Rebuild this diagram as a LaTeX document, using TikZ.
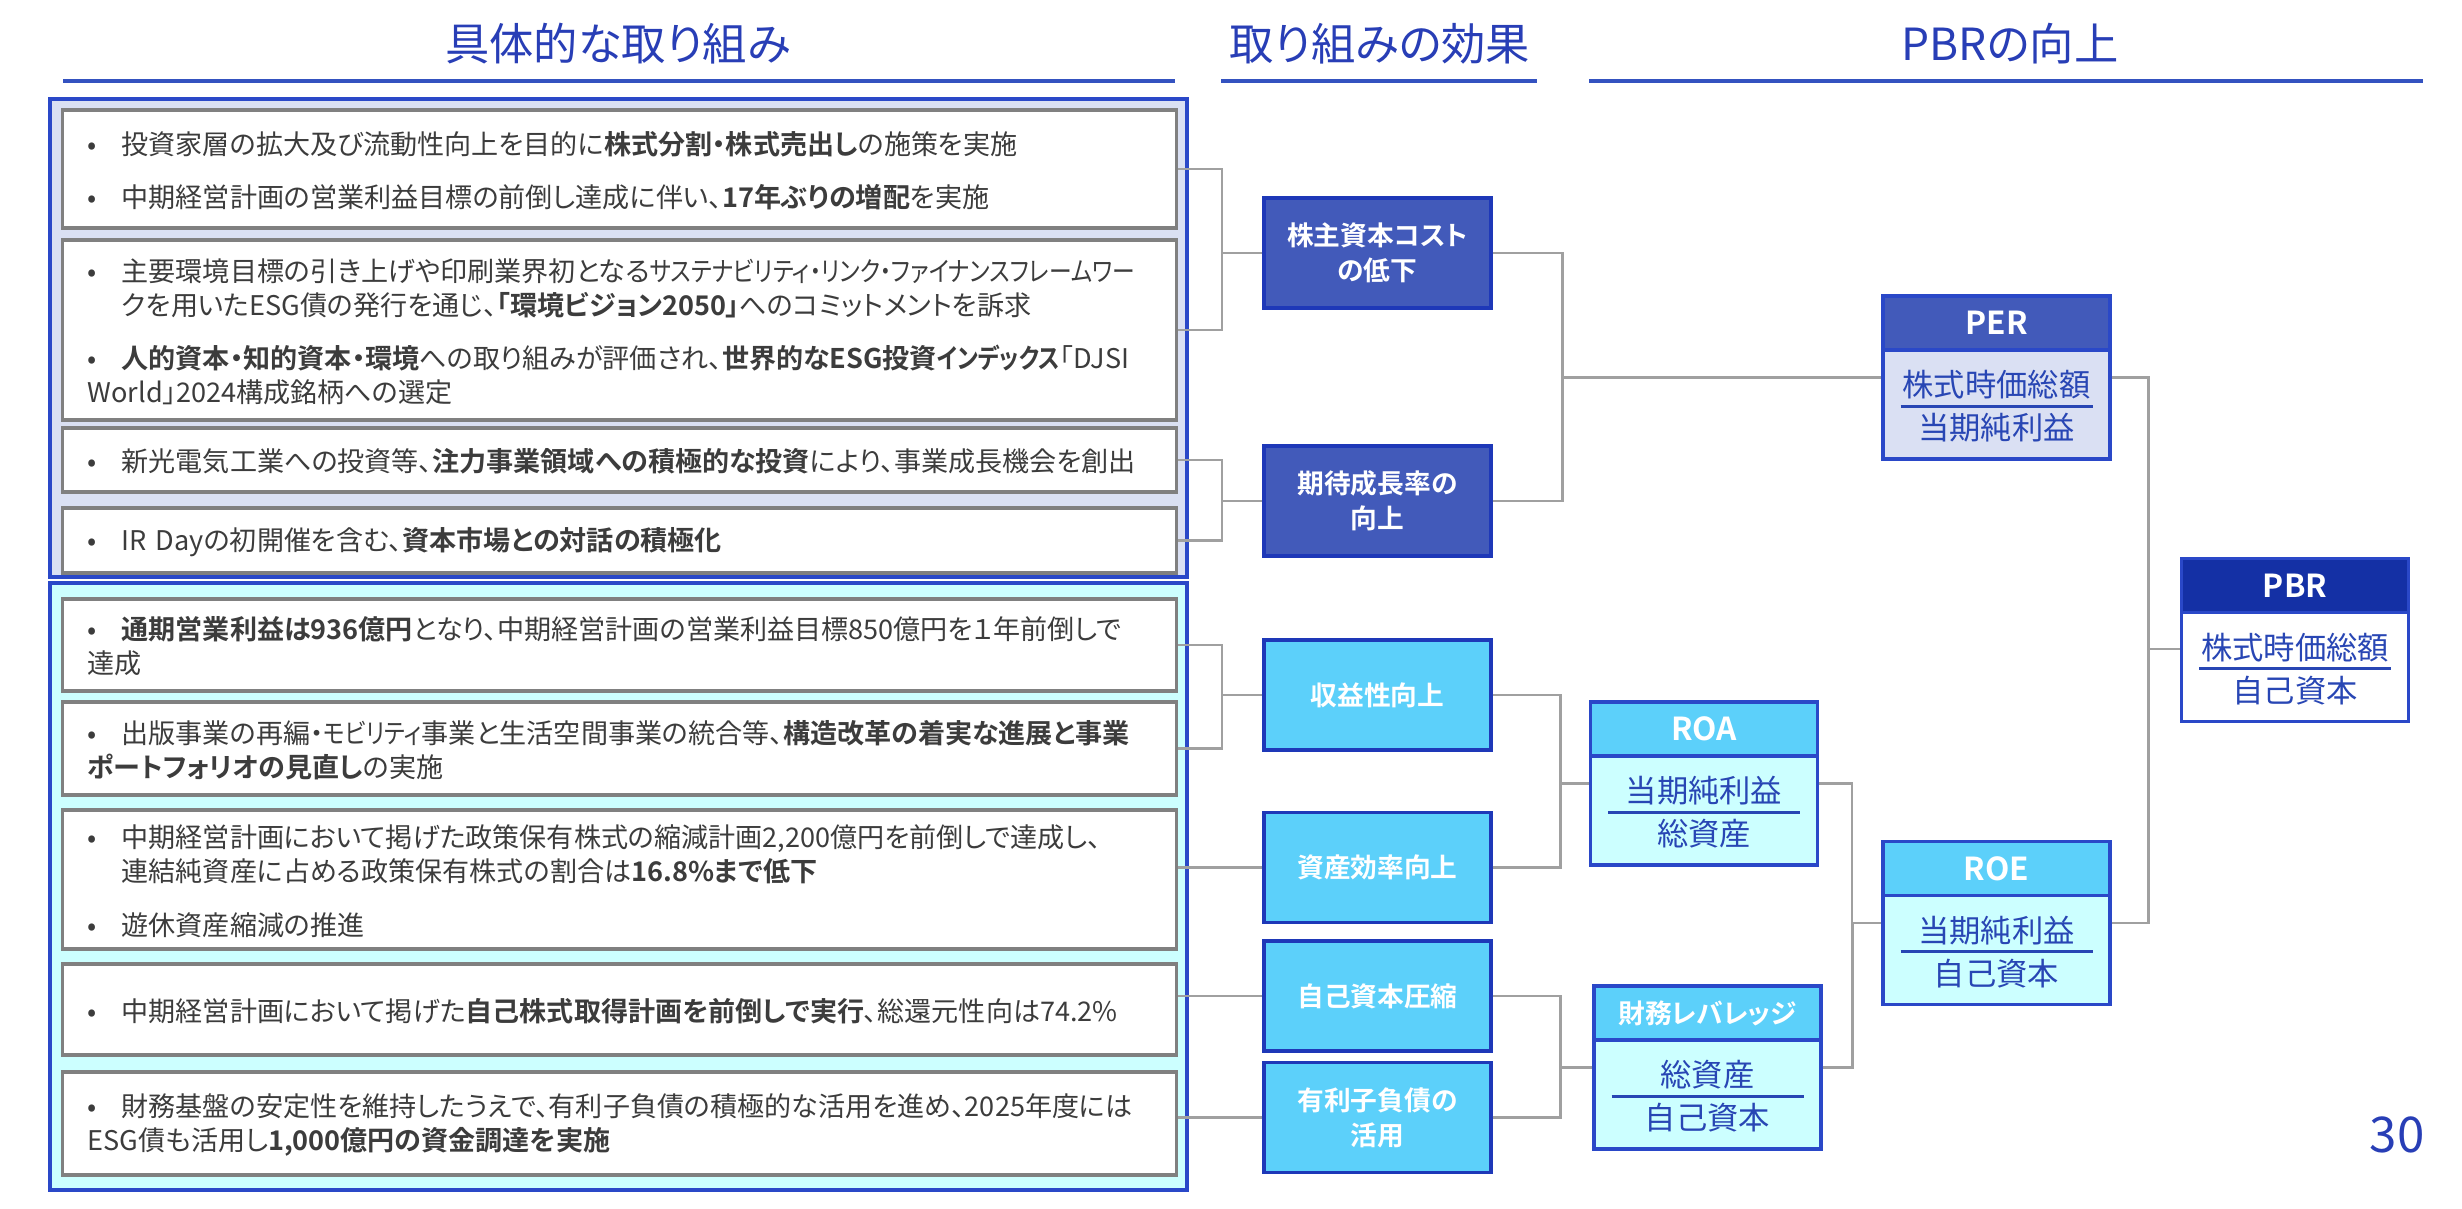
\documentclass[tikz,border=0pt]{standalone}
\usepackage{fontspec}
\usepackage{graphicx}
\setmainfont{Noto Sans CJK JP}[BoldFont={Noto Sans CJK JP Bold},RawFeature=+palt]
\usetikzlibrary{calc}

\definecolor{hdblue}{RGB}{40,62,182}
\definecolor{lineblue}{RGB}{52,82,192}
\definecolor{frameblue}{RGB}{42,72,200}
\definecolor{effline}{RGB}{30,56,184}
\definecolor{lav}{RGB}{218,224,243}
\definecolor{aqua}{RGB}{204,255,255}
\definecolor{effdark}{RGB}{66,90,186}
\definecolor{effsky}{RGB}{92,208,250}
\definecolor{pbrhead}{RGB}{20,48,165}
\definecolor{linegray}{RGB}{160,160,160}
\definecolor{boxgray}{RGB}{128,128,128}
\definecolor{txtgray}{RGB}{60,60,60}
\definecolor{ratioblue}{RGB}{40,70,180}

\tikzset{
  heading/.style={text=hdblue, font={\fontsize{12.6}{15}\selectfont}},
  underline/.style={draw=lineblue, line width=0.9pt},
  frame/.style={draw=frameblue, line width=0.9pt},
  listbox/.style={draw=boxgray, line width=0.9pt, fill=white, text width=10.63cm,
    inner xsep=0.25cm, inner ysep=0pt, align=left, text=txtgray,
    execute at end node={\par\vspace{0.08cm}},
    font={\fontsize{7.7}{9.7}\selectfont}},
  effbox/.style={draw=effline, line width=0.9pt, minimum width=2.27cm, minimum height=1.1cm,
    align=center, text=white, font={\bfseries\fontsize{7.6}{10}\selectfont}},
  ratiobody/.style={draw=frameblue, line width=0.9pt, minimum width=2.27cm, minimum height=1.63cm},
  ratiohead/.style={draw=frameblue, line width=0.9pt, minimum width=2.27cm, minimum height=0.54cm,
    text=white, font={\bfseries\fontsize{9}{10}\selectfont}},
  ratiotext/.style={text=ratioblue, inner sep=0pt, font={\fontsize{8.9}{10}\selectfont}},
  ratiobar/.style={draw=ratioblue, line width=0.9pt},
  link/.style={draw=linegray, line width=0.7pt},
  pagenum/.style={text=hdblue, font={\fontsize{14}{16}\selectfont}}
}

\newcommand\itm{\par\noindent\hangindent=0.34cm\hangafter=1\makebox[0.34cm][l]{•}}
\newcommand\itmgap{\par\vspace{0.19cm}}
\newcommand\narrow[1]{\scalebox{0.84}[1]{#1}}
% ratio box: name, position, head style, body style, title, numerator, denominator
\newcommand\ratiobox[7]{%
  \node[ratiobody,#4] (#1) at (#2) {};
  \node[ratiohead,#3,anchor=north] (#1h) at (#1.north) {#5};
  \coordinate (#1m) at ($(#1h.south)!0.5!(#1.south)$);
  \node[ratiotext] (#1n) at ($(#1m)+(0,-21)$) {#6};
  \node[ratiotext] (#1d) at ($(#1m)+(0,22)$) {#7};
  \draw[ratiobar] ($(#1m)+(-96,0)$) -- ($(#1m)+(96,0)$);
}

\begin{document}
\begin{tikzpicture}[x=0.01cm,y=-0.01cm]
  \useasboundingbox (0,0) rectangle (2462,1209);

  %%%%% HEADINGS %%%%%
  \node[heading] (t1) at (618,44) {具体的な取り組み};
  \node[heading] (t2) at (1380,44) {取り組みの効果};
  \node[heading] (t3) at (2010,44) {PBRの向上};
  \draw[underline] (63,81) -- (1175,81);
  \draw[underline] (1221,81) -- (1537,81);
  \draw[underline] (1589,81) -- (2423,81);

  %%%%% MEASURES %%%%%
  \draw[frame, fill=lav] (50,99) rectangle (1187,577);
  \draw[frame, fill=aqua] (50,583) rectangle (1187,1190);

  \node[listbox, minimum height=1.18cm] (l1) at (619.5,169) {%
    \itm 投資家層の拡大及び流動性向上を目的に\textbf{株式分割・株式売出し}の施策を実施\itmgap
    \itm 中期経営計画の営業利益目標の前倒し達成に伴い、\textbf{17年ぶりの増配}を実施};
  \node[listbox, minimum height=1.80cm] (l2) at (619.5,330) {%
    \itm 主要環境目標の引き上げや印刷業界初となる\narrow{サステナビリティ・リンク・ファイナンスフレームワー}\newline
    クを用いたESG債の発行を通じ、\textbf{「環境ビジョン2050」}へのコミットメントを訴求\itmgap
    \itm \textbf{人的資本・知的資本・環境}への取り組みが評価され、\textbf{世界的なESG投資\narrow{インデックス}}「DJSI\newline
    World」2024構成銘柄への選定};
  \node[listbox, minimum height=0.64cm] (l3) at (619.5,460) {%
    \itm 新光電気工業への投資等、\textbf{注力事業領域への積極的な投資}により、事業成長機会を創出};
  \node[listbox, minimum height=0.65cm] (l4) at (619.5,540.5) {%
    \itm IR Dayの初開催を含む、\textbf{資本市場との対話の積極化}};

  \node[listbox, minimum height=0.92cm] (l5) at (619.5,645) {%
    \itm \textbf{通期営業利益は936億円}となり、中期経営計画の営業利益目標850億円を１年前倒しで\newline
    達成};
  \node[listbox, minimum height=0.93cm] (l6) at (619.5,748.5) {%
    \itm 出版事業の再編・\narrow{モビリティ}事業と生活空間事業の統合等、\textbf{構造改革の着実な進展と事業}\newline
    \textbf{ポートフォリオの見直し}の実施};
  \node[listbox, minimum height=1.39cm] (l7) at (619.5,879.5) {%
    \itm 中期経営計画において掲げた政策保有株式の縮減計画2,200億円を前倒しで達成し、\newline
    連結純資産に占める政策保有株式の割合は\textbf{16.8\%まで低下}\itmgap
    \itm 遊休資産縮減の推進};
  \node[listbox, minimum height=0.91cm] (l8) at (619.5,1009.5) {%
    \itm 中期経営計画において掲げた\textbf{自己株式取得計画を前倒しで実行}、総還元性向は74.2\%};
  \node[listbox, minimum height=1.03cm] (l9) at (619.5,1123.5) {%
    \itm 財務基盤の安定性を維持したうえで、有利子負債の積極的な活用を進め、2025年度には\newline
    ESG債も活用し\textbf{1,000億円の資金調達を実施}};

  %%%%% EFFECTS %%%%%
  \node[effbox, fill=effdark] (e1) at (1377.5,253) {株主資本コスト\\の低下};
  \node[effbox, fill=effdark] (e2) at (1377.5,501) {期待成長率の\\向上};
  \node[effbox, fill=effsky] (e3) at (1377.5,695) {収益性向上};
  \node[effbox, fill=effsky] (e4) at (1377.5,867.5) {資産効率向上};
  \node[effbox, fill=effsky] (e5) at (1377.5,996) {自己資本圧縮};
  \node[effbox, fill=effsky] (e6) at (1377.5,1117.5) {有利子負債の\\活用};

  %%%%% RATIOS %%%%%
  \ratiobox{per}{1996.5,377.5}{fill=effdark}{fill=lav}{PER}{株式時価総額}{当期純利益}
  \ratiobox{pbr}{2295,640}{fill=pbrhead}{fill=white}{PBR}{株式時価総額}{自己資本}
  \ratiobox{roa}{1704,783.5}{fill=effsky}{fill=aqua}{ROA}{当期純利益}{総資産}
  \ratiobox{roe}{1996.5,923}{fill=effsky}{fill=aqua}{ROE}{当期純利益}{自己資本}
  \ratiobox{lev}{1707.5,1067.5}{fill=effsky,font={\bfseries\fontsize{7.6}{10}\selectfont}}{fill=aqua}{財務レバレッジ}{総資産}{自己資本}

  %%%%% LINKS %%%%%
  \draw[link] (l1.east) -- ++(44,0) |- (e1.west);
  \draw[link] (l2.east) -- ++(44,0) |- (e1.west);
  \draw[link] (l3.east) -- ++(44,0) |- (e2.west);
  \draw[link] (l4.east) -- ++(44,0) |- (e2.west);
  \draw[link] (l5.east) -- ++(44,0) |- (e3.west);
  \draw[link] (l6.east) -- ++(44,0) |- (e3.west);
  \draw[link] (l7.east |- e4.west) -- (e4.west);
  \draw[link] (l8.east |- e5.west) -- (e5.west);
  \draw[link] (l9.east |- e6.west) -- (e6.west);

  \draw[link] (e1.east) -- ++(70,0) |- (per.west);
  \draw[link] (e2.east) -- ++(70,0) |- (per.west);
  \draw[link] (e3.east) -- ++(68,0) |- (roa.west);
  \draw[link] (e4.east) -- ++(68,0) |- (roa.west);
  \draw[link] (e5.east) -- ++(68,0) |- (lev.west);
  \draw[link] (e6.east) -- ++(68,0) |- (lev.west);
  \draw[link] (roa.east) -- ++(33,0) |- (roe.west);
  \draw[link] (lev.east) -- ++(30,0) |- (roe.west);
  \draw[link] (per.east) -- ++(37,0) |- ([yshift=-0.09cm]pbr.west);
  \draw[link] (roe.east) -- ++(37,0) |- ([yshift=-0.09cm]pbr.west);

  \node[pagenum] (pg) at (2397,1135) {30};
\end{tikzpicture}
\end{document}
